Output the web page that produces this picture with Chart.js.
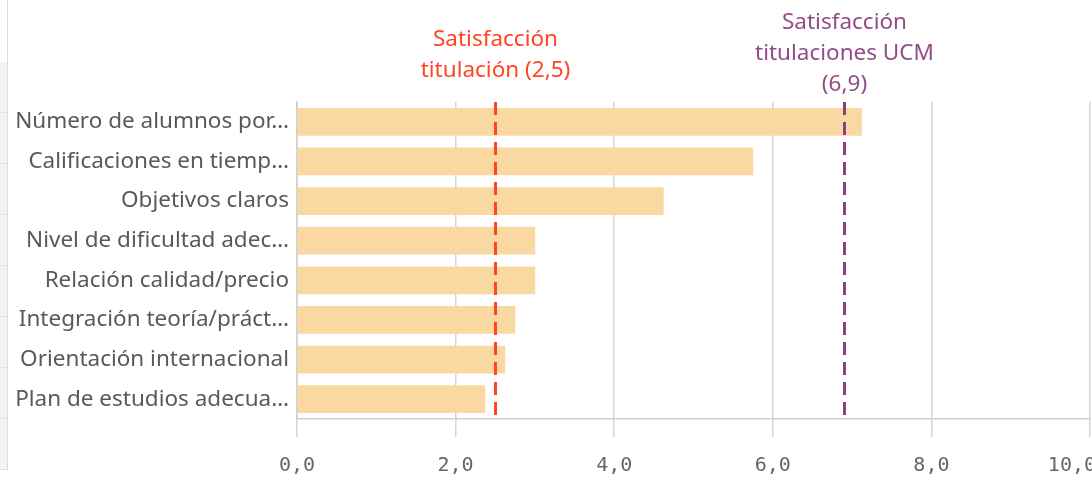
<!DOCTYPE html>
<html>
<head>
<meta charset="utf-8">
<script src="https://cdn.jsdelivr.net/npm/chart.js@4"></script>
<style>
  html, body { margin: 0; padding: 0; background: #fff; }
  #wrap { position: relative; width: 1092px; height: 480px; }
  #edge {
    position: absolute; left: 0; top: 0; width: 7px; height: 470px;
    border-right: 1px solid #dcdcdc;
    background: repeating-linear-gradient(to bottom, #f3f3f3 0px, #f3f3f3 50px, #e2e2e2 50px, #e2e2e2 51px);
    background-position: 0 62px; background-repeat: no-repeat;
  }
  canvas { position: absolute; left: 0; top: 0; }
</style>
</head>
<body>
<div id="wrap">
  <div id="edge"></div>
  <canvas id="chart" width="1092" height="480"></canvas>
</div>
<script>
// --- DATA ---
const categories = [
    'Número de alumnos por…',
    'Calificaciones en tiemp…',
    'Objetivos claros',
    'Nivel de dificultad adec…',
    'Relación calidad/precio',
    'Integración teoría/práct…',
    'Orientación internacional',
    'Plan de estudios adecua…'
];
const scores = [7.12, 5.75, 4.62, 3.0, 3.0, 2.75, 2.62, 2.37];
const xTicks = [0, 2, 4, 6, 8, 10];

// reference lines: value, label lines, colour
const refValues = [2.5, 6.9];
const refLabels = [
    ['Satisfacción', 'titulación (2,5)'],
    ['Satisfacción', 'titulaciones UCM', '(6,9)']
];
const refColors = ['#ff4521', '#8b3f80'];

const fmt = v => v.toFixed(1).replace('.', ',');

// dashed target lines + their captions above the plot
const refLinesPlugin = {
    id: 'refLines',
    afterDatasetsDraw(chart) {
        const { ctx, chartArea, scales } = chart;
        refValues.forEach((v, i) => {
            const x = Math.round(scales.x.getPixelForValue(v)) + 0.5;
            ctx.save();
            ctx.strokeStyle = refColors[i];
            ctx.lineWidth = 3;
            ctx.setLineDash([13, 7]);
            ctx.beginPath();
            ctx.moveTo(x, chartArea.top);
            ctx.lineTo(x, chartArea.bottom);
            ctx.stroke();

            ctx.setLineDash([]);
            ctx.fillStyle = i === 0 ? refColors[i] : '#934c88';
            ctx.font = '22.5px "Noto Sans"';
            ctx.textAlign = 'center';
            ctx.textBaseline = 'middle';
            const lines = refLabels[i];
            // the two-line caption ends higher than the three-line one
            const lastY = i === 0 ? chartArea.top - 31 : chartArea.top - 17;
            lines.forEach((t, k) => {
                ctx.fillText(t, x, lastY - (lines.length - 1 - k) * 31);
            });
            ctx.restore();
        });
    }
};

new Chart(document.getElementById('chart'), {
    type: 'bar',
    data: {
        labels: categories,
        datasets: [{
            data: scores,
            backgroundColor: '#fad8a2',
            borderWidth: 0,
            barThickness: 27
        }]
    },
    options: {
        indexAxis: 'y',
        responsive: false,
        animation: false,
        layout: { padding: { top: 102, right: 2, bottom: 0, left: 0 } },
        plugins: { legend: { display: false }, tooltip: { enabled: false } },
        scales: {
            x: {
                min: 0, max: 10,
                afterBuildTicks: s => { s.ticks = xTicks.map(v => ({ value: v })); },
                // chart.js reserves the tick padding twice; keep only what is drawn
                afterFit: s => { s.paddingLeft = 0; s.paddingRight = 0; s.height = 61; },
                grid: { color: '#d4d4d4', lineWidth: 1.5, tickLength: 18 },
                border: { display: true, color: '#cfcfcf', width: 1.5 },
                ticks: {
                    color: '#666',
                    font: { family: '"DejaVu Sans Mono"', size: 20 },
                    padding: 17,
                    maxRotation: 0,
                    // last label is pushed inwards so it stays on the canvas
                    callback: (v, i, all) => i === all.length - 1 ? fmt(v) + '   ' : fmt(v)
                }
            },
            y: {
                afterFit: s => { s.width = 297; s.paddingTop = 0; s.paddingBottom = 0; },
                grid: { display: false, drawTicks: false },
                border: { display: true, color: '#cfcfcf', width: 1.5 },
                ticks: {
                    color: '#595959',
                    font: { family: '"Noto Sans"', size: 22.5 },
                    padding: 8
                }
            }
        }
    },
    plugins: [refLinesPlugin]
});
</script>
</body>
</html>
